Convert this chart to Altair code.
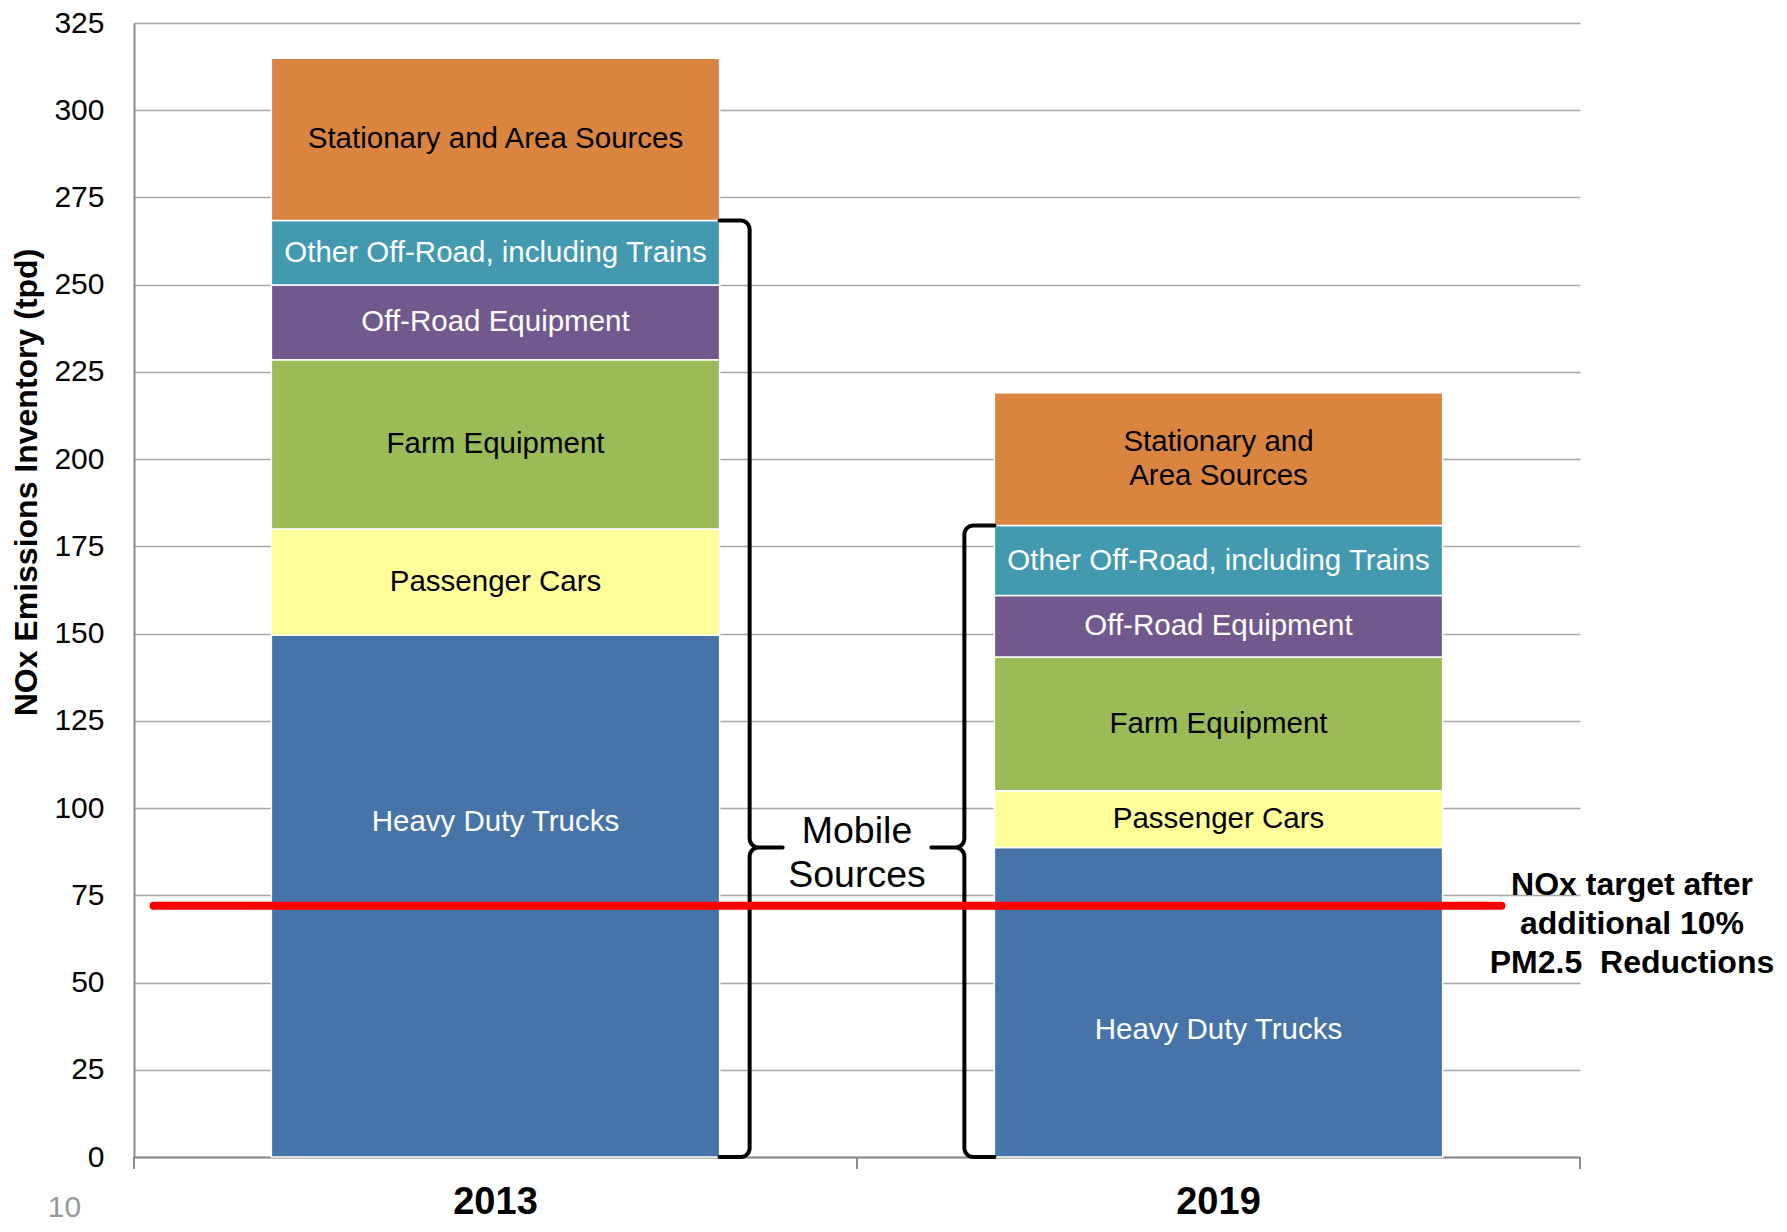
import altair as alt
import pandas as pd
import numpy as np

# ---------------- data ----------------
years = ["2013", "2019"]
categories = [
    "Heavy Duty Trucks",
    "Passenger Cars",
    "Farm Equipment",
    "Off-Road Equipment",
    "Other Off-Road, including Trains",
    "Stationary and Area Sources",
]
values_2013 = [149.5, 30.5, 48.5, 21.4, 18.5, 46.5]
values_2019 = [88.7, 16.3, 38.3, 17.6, 20.1, 38.0]
labels_2013 = [
    "Heavy Duty Trucks",
    "Passenger Cars",
    "Farm Equipment",
    "Off-Road Equipment",
    "Other Off-Road, including Trains",
    "Stationary and Area Sources",
]
labels_2019 = [
    "Heavy Duty Trucks",
    "Passenger Cars",
    "Farm Equipment",
    "Off-Road Equipment",
    "Other Off-Road, including Trains",
    "Stationary and\nArea Sources",
]
mobile_count = 5  # first five categories are mobile sources
y_ticks = list(range(0, 326, 25))
target = 72.0
target_text = "NOx target after\nadditional 10%\nPM2.5\u00a0 Reductions"
mobile_text = "Mobile\nSources"
page_number = "10"

colors = ["#4674A8", "#FFFF99", "#9BBB59", "#71598E", "#4399B0", "#D9843F"]
text_colors = ["#FFFFFF", "#000000", "#000000", "#FFFFFF", "#FFFFFF", "#000000"]

# ---------------- layout ----------------
W, H = 1446, 1134
PX = H / 325.0
P_IN, P_OUT = 0.38, 0.19
FONT = "Liberation Sans"
LBL_LH = 34

rows = []
for yr, vals, labs in [("2013", values_2013, labels_2013), ("2019", values_2019, labels_2019)]:
    start = 0.0
    for i, (c, v, lab) in enumerate(zip(categories, vals, labs)):
        rows.append(dict(year=yr, category=c, value=v, start=start, end=start + v,
                         mid=start + v / 2, label=lab, tcolor=text_colors[i], idx=i,
                         nlines=lab.count("\n") + 1))
        start += v
df = pd.DataFrame(rows)

mobile_tot = {yr: sum(v[:mobile_count]) for yr, v in [("2013", values_2013), ("2019", values_2019)]}
brace_tip = values_2019[0]

# band geometry (pixels from plot left)
step = W / 2.0
bw = step * (1 - P_IN)
bar1_right = step * P_OUT + bw
bar2_left = step + step * P_OUT


def brace(x_edge, direction, y_bot, y_top, y_tip, gap=30, tip=33, r=9):
    """Curly brace path; direction +1 points right, -1 points left."""
    xs = 0.0
    xe = -gap
    xt = tip
    yT, yB, yM = y_top * PX, y_bot * PX, y_tip * PX
    pts = [(xe, yT), (xs - r, yT)]

    def arc(cx, cy, a0, a1, n=8):
        return [(cx + r * np.cos(np.radians(a)), cy + r * np.sin(np.radians(a)))
                for a in np.linspace(a0, a1, n)]

    pts += arc(xs - r, yT - r, 90, 0)
    pts += arc(xs + r, yM + r, 180, 270)
    pts += [(xt, yM), (xs + r, yM)]
    pts += arc(xs + r, yM - r, 90, 180)
    pts += arc(xs - r, yB + r, 0, -90)
    pts += [(xe, yB)]
    x_spine = x_edge + direction * gap
    return [(x_spine + direction * px, py / PX) for px, py in pts]


brace_rows = []
for g, (edge, d, top) in enumerate([(bar1_right, 1, mobile_tot["2013"]),
                                    (bar2_left, -1, mobile_tot["2019"])]):
    for i, (bx, by) in enumerate(brace(edge, d, 0.0, top, brace_tip)):
        brace_rows.append(dict(grp=g, i=i, bx=bx, by=by))
df_brace = pd.DataFrame(brace_rows)

df_ticks = pd.DataFrame({"tx": [0.0, step, W]})
one = pd.DataFrame({"target": [target]})

# ---------------- chart ----------------
x_enc = alt.X(
    "year:N",
    sort=years,
    scale=alt.Scale(paddingInner=P_IN, paddingOuter=P_OUT),
    axis=alt.Axis(title=None, labelAngle=0, labelFontSize=38, labelFontWeight="bold",
                  labelColor="#000000", labelPadding=26, ticks=False, tickSize=0,
                  domainColor="#8c8c8c", domainWidth=2, grid=False),
)
y_scale = alt.Scale(domain=[0, 325], nice=False, zero=True)

bars = alt.Chart(df).mark_bar(stroke="white", strokeWidth=1.5).encode(
    x=x_enc,
    y=alt.Y("start:Q", scale=y_scale,
            axis=alt.Axis(values=y_ticks, title="NOx Emissions Inventory (tpd)",
                          titleFontSize=32, titleFontWeight="bold", titleColor="#000000",
                          titlePadding=10, titleY=459, labelFontSize=30, labelColor="#000000",
                          labelPadding=30, ticks=False, tickSize=0,
                          grid=True, gridColor="#a6a6a6", gridWidth=1.5,
                          domainColor="#8c8c8c", domainWidth=2)),
    y2="end:Q",
    color=alt.Color("category:N", scale=alt.Scale(domain=categories, range=colors), legend=None),
)

base_text = dict(fontSize=29.5, lineHeight=LBL_LH, lineBreak="\n", align="center",
                 baseline="middle", font=FONT)


def seg_labels(cond, dy):
    return alt.Chart(df).transform_filter(cond).mark_text(dy=dy, **base_text).encode(
        x=alt.X("year:N", sort=years), y="mid:Q", text="label:N",
        color=alt.Color("tcolor:N", scale=None),
    )


labels_main = seg_labels((alt.datum.idx > 0) & (alt.datum.nlines == 1), 0)
labels_multi = seg_labels((alt.datum.idx > 0) & (alt.datum.nlines == 2), -LBL_LH / 2)
labels_hdt_2013 = seg_labels((alt.datum.idx == 0) & (alt.datum.year == "2013"), -74)
labels_hdt_2019 = seg_labels((alt.datum.idx == 0) & (alt.datum.year == "2019"), 28)

main = alt.layer(bars, labels_main, labels_multi, labels_hdt_2013, labels_hdt_2019)

braces = alt.Chart(df_brace).mark_line(color="black", strokeWidth=4, strokeJoin="round",
                                        strokeCap="round").encode(
    x=alt.X("bx:Q", scale=None, axis=None),
    y=alt.Y("by:Q"),
    order="i:Q",
    detail="grp:N",
)

mobile = alt.Chart(pd.DataFrame({"v": [brace_tip - 2]})).mark_text(
    fontSize=37.5, lineHeight=44, lineBreak="\n", align="center", baseline="middle",
    font=FONT, color="#000000", dy=-22
).encode(x=alt.value(W / 2), y=alt.Y("v:Q"), text=alt.value(mobile_text))

red = alt.Chart(one).mark_rule(color="#FF0000", strokeWidth=8, strokeCap="round").encode(
    x=alt.value(19.5), x2=alt.value(1367.5), y=alt.Y("target:Q"),
)

target_lbl = alt.Chart(one).mark_text(
    fontSize=32, fontWeight="bold", lineHeight=39, lineBreak="\n", align="center",
    baseline="middle", font=FONT, color="#000000", dy=-39
).encode(x=alt.value(1498), y=alt.value(901), text=alt.value(target_text))

x_ticks = alt.Chart(df_ticks).mark_rule(color="#8c8c8c", strokeWidth=2).encode(
    x=alt.X("tx:Q", scale=None, axis=None), y=alt.value(H), y2=alt.value(H + 12)
)

page_lbl = alt.Chart(one).mark_text(
    fontSize=30, align="center", baseline="middle", font=FONT, color="#9a9a9a"
).encode(x=alt.value(-69.5), y=alt.value(1185), text=alt.value(page_number))

chart = alt.layer(main, braces, mobile, red, target_lbl, x_ticks, page_lbl).resolve_scale(
    x="independent"
).properties(
    width=W, height=H,
    padding={"left": 2, "top": 0, "right": 0, "bottom": 0},
).configure(font=FONT).configure_view(stroke=None)

chart.save("out.html", embed_options={"renderer": "svg", "actions": False})
